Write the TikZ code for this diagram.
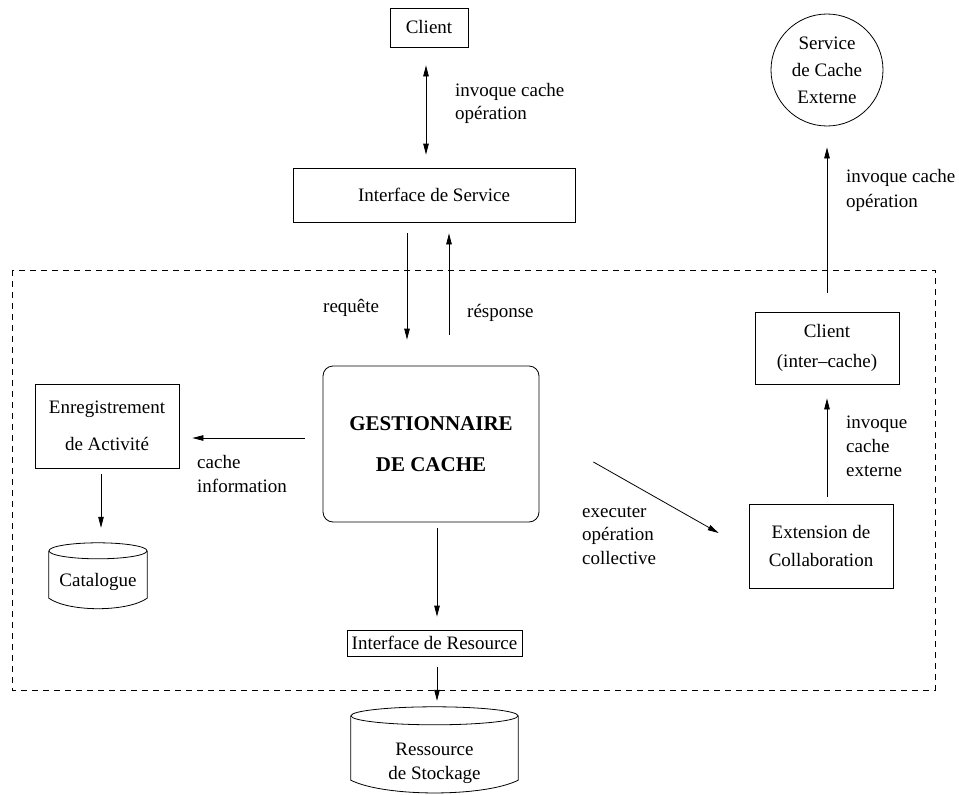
\documentclass[tikz,border=0pt]{standalone}
\usepackage{fontspec}
\setmainfont{Liberation Serif}
\usetikzlibrary{arrows.meta,calc}
\newcommand\txtsize[1]{\fontsize{19}{#1}\selectfont}
\begin{document}
\begin{tikzpicture}[x=1pt,y=-1pt,
  every node/.style={font=\txtsize{23}},
  box/.style={draw, line width=0.8pt, inner sep=0pt, align=center},
  lbl/.style={inner sep=0pt, anchor=west, align=left},
  arr/.style={line width=0.8pt, -{Triangle[length=11pt,width=5.5pt]}},
  dblarr/.style={line width=0.8pt, {Triangle[length=11pt,width=5.5pt]}-{Triangle[length=11pt,width=5.5pt]}},
  cylbody/.style={inner sep=0pt},
  cylline/.style={line width=0.8pt}]
\useasboundingbox (0,0) rectangle (959,795);

% system boundary
\draw[line width=0.8pt, dash pattern=on 6pt off 5pt] (12,270) rectangle (935,690);

% boxes
\node[box, minimum width=78pt, minimum height=39pt] (client) at (429,27.5) {Client};
\node[box, minimum width=282pt, minimum height=54pt] (svc) at (434,195) {Interface de Service};
\node[box, rounded corners=10pt, minimum width=216pt, minimum height=156pt,
      font=\bfseries\fontsize{21}{41}\selectfont] (gest) at (431,444) {GESTIONNAIRE\\DE CACHE};
\node[box, minimum width=144pt, minimum height=84pt, font=\txtsize{37}] (enreg) at (107,426) {Enregistrement\\de Activit\'e};
\node[box, minimum width=175pt, minimum height=26pt] (resif) at (434.5,643) {Interface de Resource};
\node[box, minimum width=144pt, minimum height=72pt, font=\txtsize{30}] (ic) at (827,348) {Client\\(inter--cache)};
\node[box, minimum width=144pt, minimum height=84pt, font=\txtsize{28}] (ext) at (821,546) {Extension de\\Collaboration};
\node[box, circle, minimum size=112pt, font=\txtsize{27}] (extsvc) at (827,70) {Service\\de Cache\\Externe};

% storage cylinders
\node[cylbody, minimum width=98pt, minimum height=66pt] (cat) at (98,576) {};
\node[inner sep=0pt] (cattxt) at (98,582) {Catalogue};
\draw[cylline] ($(cat.north)+(0,8)$) ellipse[x radius=49pt, y radius=8pt];
\draw[cylline] ($(cat.north west)+(0,8)$) -- ($(cat.south west)+(0,-11)$)
  .. controls ($(cat.south west)+(20,3)$) and ($(cat.south east)+(-20,3)$) .. ($(cat.south east)+(0,-11)$)
  -- ($(cat.north east)+(0,8)$);

\node[cylbody, minimum width=167pt, minimum height=86pt] (stock) at (434.5,750) {};
\node[inner sep=0pt, align=center, font=\txtsize{24}] (stocktxt) at (434.5,763) {Ressource\\de Stockage};
\draw[cylline] ($(stock.north)+(0,9)$) ellipse[x radius=83.5pt, y radius=9pt];
\draw[cylline] ($(stock.north west)+(0,9)$) -- ($(stock.south west)+(0,-13)$)
  .. controls ($(stock.south west)+(34,4)$) and ($(stock.south east)+(-34,4)$) .. ($(stock.south east)+(0,-13)$)
  -- ($(stock.north east)+(0,9)$);

% connectors
\draw[dblarr, shorten <=18pt, shorten >=13pt] ([xshift=-3pt]client.south) -- ([xshift=-3pt]client.south |- svc.north);
\draw[arr, shorten <=11pt, shorten >=26pt] ([xshift=-27pt]svc.south) -- ([xshift=-27pt]svc.south |- gest.north);
\draw[arr, shorten <=31pt, shorten >=11pt] ([xshift=15pt]svc.south |- gest.north) -- ([xshift=15pt]svc.south);
\draw[arr, shorten <=18pt, shorten >=13pt] ([yshift=6pt]gest.west) -- ([yshift=6pt]gest.west -| enreg.east);
\draw[arr, shorten <=6pt, shorten >=15pt] ([xshift=-6pt]enreg.south) -- ([xshift=-6pt]enreg.south |- cat.north);
\draw[arr, shorten <=6pt, shorten >=13pt] ([xshift=6pt]gest.south) -- ([xshift=6pt]gest.south |- resif.north);
\draw[arr, shorten <=11pt, shorten >=6pt] ([xshift=2.5pt]resif.south) -- ([xshift=2.5pt]resif.south |- stock.north);
\draw[arr] ($(gest.east)+(54,18)$) -- ($(ext.west)+(-30,-13)$);
\draw[arr, shorten <=7pt, shorten >=14pt] ([xshift=6pt]ext.north) -- ([xshift=6pt]ext.north |- ic.south);
\draw[arr, shorten <=19pt, shorten >=21pt] (ic.north) -- (extsvc.south);

% connector labels
\node[lbl] (l1) at (455,103.5) {invoque cache\\op\'eration};
\node[lbl] (l2) at (323,308) {requ\^ete};
\node[lbl] (l3) at (467,313) {r\'esponse};
\node[lbl, font=\txtsize{24}] (l4) at (197,474) {cache\\information};
\node[lbl, font=\txtsize{23.5}] (l5) at (582,535.5) {executer\\op\'eration\\collective};
\node[lbl, font=\txtsize{24}] (l6) at (846,446) {invoque\\cache\\externe};
\node[lbl, font=\txtsize{25}] (l7) at (846,190) {invoque cache\\op\'eration};
\end{tikzpicture}
\end{document}
